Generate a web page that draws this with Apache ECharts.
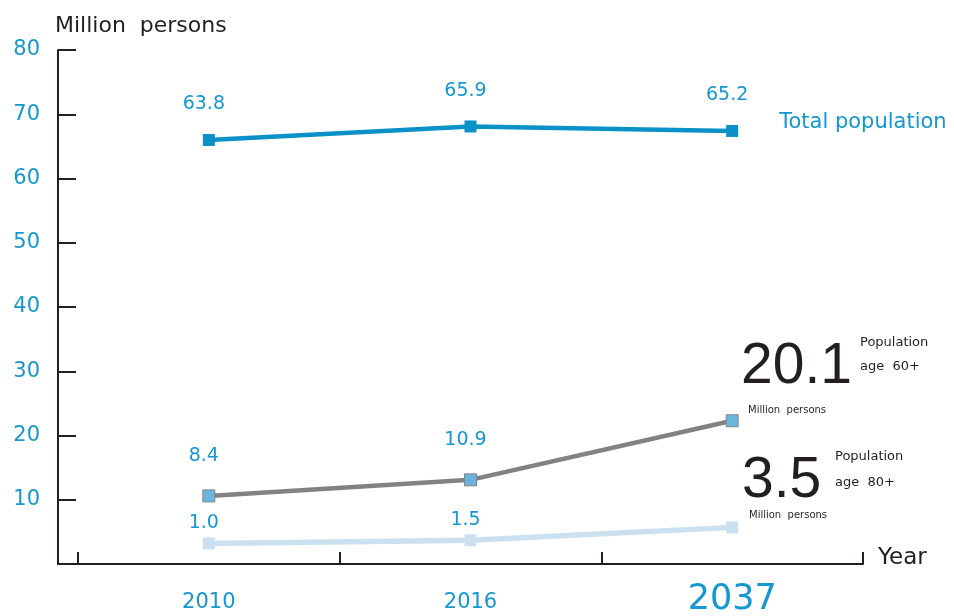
<!DOCTYPE html>
<html>
<head>
<meta charset="utf-8">
<script src="https://cdn.jsdelivr.net/npm/echarts@6/dist/echarts.min.js"></script>
<style>html,body{margin:0;padding:0;background:#fff}#c{width:954px;height:616px}</style>
</head>
<body>
<div id="c"></div>
<script>
// ---- data ----
var years = ['2010', '2016', '2037'];
var totalPop = [63.8, 65.9, 65.2];
var age60 = [8.4, 10.9, 20.1];
var age80 = [1.0, 1.5, 3.5];
var yTicks = [0, 10, 20, 30, 40, 50, 60, 70, 80];
var totalName = 'Total population';
var unitName = 'Million  persons';
var age60Name = ['Population', 'age  60+'];
var age80Name = ['Population', 'age  80+'];

// ---- style ----
var BLUE = '#1597cf';
var LINE_BLUE = '#0a92c8';
var GRAY = '#828184';
var LIGHT = '#cce1ef';
var BLACK = '#231f20';
var FONT = '"DejaVu Sans", sans-serif';
var BIG = '"Liberation Sans", sans-serif';
var SHIFT = 2.2; // drawing baseline offset in the original artwork

var chart = echarts.init(document.getElementById('c'), null, {renderer: 'canvas'});

function items(arr, hideLast) {
  return arr.map(function (v, i) {
    var o = {value: v};
    if (hideLast && i === arr.length - 1) o.label = {show: false};
    return o;
  });
}
function fmt1(p) { return Number(p.value).toFixed(1); }

var option = {
  animation: false,
  backgroundColor: '#ffffff',
  title: {
    text: unitName, left: 55, top: 15, padding: 0,
    textStyle: {fontFamily: FONT, fontSize: 22, fontWeight: 'normal', color: BLACK}
  },
  grid: [
    {left: 78, right: 91, top: 50, bottom: 52, outerBoundsMode: 'none', containLabel: false},
    {left: 58, right: 91, top: 50, bottom: 52, outerBoundsMode: 'none', containLabel: false}
  ],
  xAxis: [
    {
      type: 'category', gridIndex: 0, data: years, boundaryGap: true,
      axisLine: {show: false, onZero: false, lineStyle: {color: BLACK, width: 2}},
      axisTick: {show: true, inside: true, length: 12, lineStyle: {color: BLACK, width: 2}},
      axisLabel: {
        interval: 0, margin: 26,
        formatter: function (v, i) { return i === years.length - 1 ? '{big|' + v + '}' : '{n|' + v + '}'; },
        rich: {
          n: {fontFamily: FONT, fontSize: 21, color: BLUE, lineHeight: 26},
          big: {fontFamily: FONT, fontSize: 35, color: BLUE, lineHeight: 20}
        }
      },
      splitLine: {show: false},
      name: 'Year', nameLocation: 'end', nameGap: 15,
      nameTextStyle: {fontFamily: FONT, fontSize: 23, color: BLACK, verticalAlign: 'bottom', lineHeight: 12, align: 'left'}
    },
    {
      type: 'value', gridIndex: 1, min: 0, max: 1,
      axisLine: {show: true, onZero: false, lineStyle: {color: BLACK, width: 2}},
      axisTick: {show: false}, axisLabel: {show: false}, splitLine: {show: false}
    }
  ],
  yAxis: [
    {
      type: 'value', gridIndex: 0, min: -SHIFT, max: yTicks[yTicks.length - 1] - SHIFT, show: false
    },
    {
      type: 'value', gridIndex: 0, position: 'left', offset: 20,
      min: yTicks[0], max: yTicks[yTicks.length - 1], interval: 10,
      axisLine: {show: true, lineStyle: {color: BLACK, width: 2}},
      axisTick: {show: true, inside: true, length: 18, lineStyle: {color: BLACK, width: 2}},
      axisLabel: {
        margin: 18, fontFamily: FONT, fontSize: 21, color: BLUE,
        formatter: function (v) { return v === 0 ? '' : String(v); }
      },
      splitLine: {show: false}
    },
    {type: 'value', gridIndex: 1, show: false}
  ],
  series: [
    {
      name: totalName, type: 'line', xAxisIndex: 0, yAxisIndex: 0,
      data: items(totalPop, false),
      symbol: 'rect', symbolSize: 12,
      lineStyle: {color: LINE_BLUE, width: 4.5},
      itemStyle: {color: LINE_BLUE},
      label: {show: true, position: 'top', distance: 20, offset: [-5, 0], formatter: fmt1, fontFamily: FONT, fontSize: 19, color: BLUE},
      endLabel: {show: true, formatter: totalName, distance: 47, offset: [0, -8], fontFamily: FONT, fontSize: 21, color: BLUE},
      z: 3
    },
    {
      name: 'age60', type: 'line', xAxisIndex: 0, yAxisIndex: 0,
      data: items(age60, true),
      symbol: 'rect', symbolSize: 12,
      lineStyle: {color: GRAY, width: 4.5},
      itemStyle: {color: '#6ab4de', borderColor: '#868589', borderWidth: 1},
      label: {show: true, position: 'top', distance: 24, offset: [-5, 0], formatter: fmt1, fontFamily: FONT, fontSize: 19, color: BLUE},
      z: 3
    },
    {
      name: 'age80', type: 'line', xAxisIndex: 0, yAxisIndex: 0,
      data: items(age80, true),
      symbol: 'rect', symbolSize: 12,
      lineStyle: {color: LIGHT, width: 5.5},
      itemStyle: {color: LIGHT},
      label: {show: true, position: 'top', distance: 5, offset: [-5, 0], formatter: fmt1, fontFamily: FONT, fontSize: 19, color: BLUE},
      z: 3
    }
  ],
  graphic: [
    {type: 'text', left: 741, top: 339, style: {text: String(age60[2]), font: 'normal 57px ' + BIG, fill: BLACK}},
    {type: 'text', left: 860, top: 336, style: {text: age60Name[0], font: 'normal 13px ' + FONT, fill: BLACK}},
    {type: 'text', left: 860, top: 360, style: {text: age60Name[1], font: 'normal 13px ' + FONT, fill: BLACK}},
    {type: 'text', left: 748, top: 405, style: {text: unitName, font: 'normal 10px ' + FONT, fill: BLACK}},
    {type: 'text', left: 742, top: 453, style: {text: String(age80[2]), font: 'normal 57px ' + BIG, fill: BLACK}},
    {type: 'text', left: 835, top: 450, style: {text: age80Name[0], font: 'normal 13px ' + FONT, fill: BLACK}},
    {type: 'text', left: 835, top: 476, style: {text: age80Name[1], font: 'normal 13px ' + FONT, fill: BLACK}},
    {type: 'text', left: 749, top: 510, style: {text: unitName, font: 'normal 10px ' + FONT, fill: BLACK}}
  ]
};
chart.setOption(option);
</script>
</body>
</html>
